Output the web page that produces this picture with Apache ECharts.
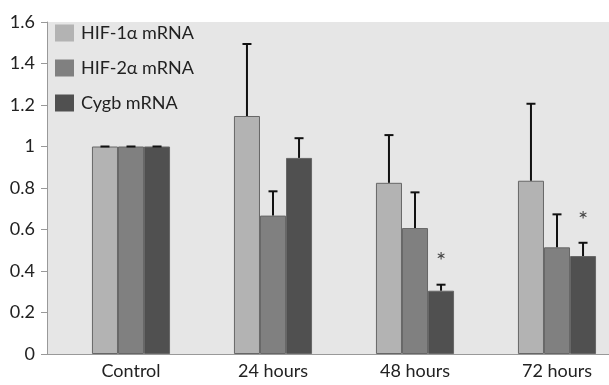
<!DOCTYPE html>
<html><head><meta charset="utf-8">
<script src="https://cdn.jsdelivr.net/npm/echarts@6/dist/echarts.min.js"></script>
<style>html,body{margin:0;padding:0;background:#fff;overflow:hidden;width:609px;height:385px}#c{width:628px;height:385px}</style>
</head><body><div id="c"></div>
<script>
const categories = ['Control', '24 hours', '48 hours', '72 hours'];
const seriesNames = ['HIF-1α mRNA', 'HIF-2α mRNA', 'Cygb mRNA'];
const hif1 = [1.0, 1.147, 0.825, 0.835];
const hif2 = [1.0, 0.667, 0.607, 0.514];
const cygb = [1.0, 0.945, 0.305, 0.472];
const hif1Err = [1.0, 1.494, 1.055, 1.206];
const hif2Err = [1.0, 0.784, 0.779, 0.673];
const cygbErr = [1.0, 1.04, 0.334, 0.536];
const cygbStar = [false, false, true, true];
const yTicks = [0, 0.2, 0.4, 0.6, 0.8, 1, 1.2, 1.4, 1.6];

const colors = ['#b3b3b3', '#808080', '#505050'];
const FONT = 'Lato';
const values = [hif1, hif2, cygb];
const errs = [hif1Err, hif2Err, cygbErr];

const chart = echarts.init(document.getElementById('c'), null, {renderer: 'canvas'});

function errSeries(si) {
  const data = categories.map((c, i) => [i, values[si][i], errs[si][i], si === 2 && cygbStar[i] ? 1 : 0]);
  return {
    type: 'custom', name: seriesNames[si] + ' err', z: 10, silent: true,
    data: data,
    encode: {x: 0, y: [1, 2]},
    renderItem: function (params, api) {
      const idx = api.value(0);
      const band = api.size([1, 0])[0];
      const bw = band * 0.55 / 3;
      const cx = api.coord([idx, 0])[0] + (si - 1) * bw;
      const yv = api.coord([idx, api.value(1)])[1];
      const ye = api.coord([idx, api.value(2)])[1];
      const cap = 4.5;
      const children = [
        {type: 'line', shape: {x1: cx, y1: yv, x2: cx, y2: ye}, style: {stroke: '#111', lineWidth: 2}},
        {type: 'line', shape: {x1: cx - cap, y1: ye, x2: cx + cap, y2: ye}, style: {stroke: '#111', lineWidth: 2}}
      ];
      if (api.value(3)) {
        children.push({type: 'text', style: {x: cx, y: ye - 23, text: '*', fill: '#444', font: '24px ' + FONT, align: 'center', verticalAlign: 'middle'}});
      }
      return {type: 'group', children: children};
    }
  };
}

const option = {
  animation: false,
  graphic: [
    {type: 'rect', z: -10, shape: {x: 47, y: 22, width: 581, height: 332}, style: {fill: '#e6e6e6'}, silent: true},
    {type: 'line', z: 5, shape: {x1: 47, y1: 354.5, x2: 62, y2: 354.5}, style: {stroke: '#999', lineWidth: 1}, silent: true}
  ],
  legend: {
    data: seriesNames, orient: 'vertical', left: 55, top: 24, padding: 0,
    itemWidth: 19, itemHeight: 17, itemGap: 17, icon: 'rect',
    itemStyle: {borderWidth: 0},
    textStyle: {fontFamily: FONT, fontSize: 18, color: '#222', padding: [0, 0, 0, 2]}
  },
  grid: {left: 60, right: 0, top: 22, bottom: 31, containLabel: false},
  xAxis: {
    type: 'category', data: categories,
    axisLine: {lineStyle: {color: '#999', width: 1}},
    axisTick: {show: false},
    axisLabel: {fontFamily: FONT, fontSize: 18, color: '#222', margin: 8}
  },
  yAxis: {
    type: 'value', min: 0, max: 1.6, interval: 0.2, offset: 13,
    splitLine: {show: false},
    axisLine: {show: true, lineStyle: {color: '#999', width: 1}},
    axisTick: {show: true, length: 6, lineStyle: {color: '#999'}},
    axisLabel: {fontFamily: FONT, fontSize: 18, color: '#222', margin: 12,
      formatter: v => { const t = yTicks.find(x => Math.abs(x - v) < 1e-6); return t === undefined ? '' : String(t); }}
  },
  series: [
    ...values.map((vals, si) => ({
      type: 'bar', name: seriesNames[si], data: vals,
      barGap: '0%', barCategoryGap: '45%',
      itemStyle: {color: colors[si], borderColor: '#666', borderWidth: 1}
    })),
    errSeries(0), errSeries(1), errSeries(2)
  ]
};
chart.setOption(option);
</script></body></html>
